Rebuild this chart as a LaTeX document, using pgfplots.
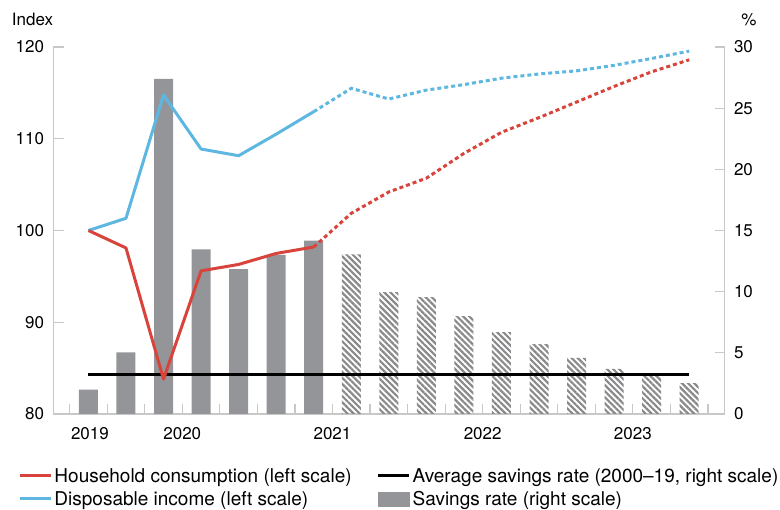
\documentclass[border=0pt]{standalone}
\usepackage{pgfplots}
\pgfplotsset{compat=1.18}
\usepackage{fontspec}
\setmainfont{TeX Gyre Heros}
\usetikzlibrary{patterns.meta}
\definecolor{hcred}{RGB}{216,68,60}
\definecolor{diblue}{RGB}{93,183,224}
\definecolor{bargray}{RGB}{147,149,152}
\definecolor{hatchgray}{RGB}{138,138,140}
\definecolor{axgray}{RGB}{200,200,200}
\begin{document}
\begin{tikzpicture}
% ---------- right scale: savings rate ----------
\begin{axis}[name=ax, scale only axis, width=671pt, height=367pt,
  xmin=-0.93, xmax=16.94, ymin=0, ymax=30,
  axis y line*=right, axis x line*=bottom,
  axis line style={axgray, line width=1.2pt},
  tick align=inside, major tick length=10pt,
  ytick={0,5,...,30},
  xtick={-0.5,0.5,...,16.5}, xticklabels={},
  tick style={axgray, line width=1.2pt},
  extra x ticks={0.04,2.5,6.5,10.5,14.5},
  extra x tick labels={2019,2020,2021,2022,2023},
  extra x tick style={major tick length=0pt},
  xticklabel style={yshift=-10pt},
  yticklabel style={xshift=6pt},
  tick label style={font=\fontsize{17}{20}\selectfont},
  /pgf/number format/assume math mode=true,
  clip=false]
\addplot[ybar, bar width=19pt, bar shift=0pt, fill=bargray, draw=none] coordinates {
(0,2.0) (1,5.04) (2,27.4) (3,13.46) (4,11.85) (5,13.0) (6,14.17)};
\addplot[ybar, bar width=19pt, bar shift=0pt, draw=none,
  pattern={Lines[angle=-45,distance=4.3pt,line width=2.2pt]}, pattern color=hatchgray] coordinates {
(7,13.05) (8,9.97) (9,9.56) (10,8.01) (11,6.7) (12,5.72) (13,4.58) (14,3.68) (15,3.1) (16,2.53)};
\addplot[black, line width=3pt] coordinates {(0,3.21) (16,3.21)};
\end{axis}
% ---------- left scale: index ----------
\begin{axis}[scale only axis, width=671pt, height=367pt,
  xmin=-0.93, xmax=16.94, ymin=80, ymax=120,
  axis y line*=left, axis x line=none,
  axis line style={axgray, line width=1.2pt},
  tick align=inside, major tick length=10pt,
  ytick={80,90,...,120},
  tick style={axgray, line width=1.2pt},
  yticklabel style={xshift=-6pt},
  tick label style={font=\fontsize{17}{20}\selectfont},
  /pgf/number format/assume math mode=true,
  legend columns=2,
  legend cell align=left,
  legend style={at={(axis description cs:-0.0525,-0.143)}, anchor=north west,
    draw=none, fill=none, inner sep=0pt,
    font=\fontsize{19}{22}\selectfont,
    nodes={inner sep=2pt, text depth=0.15em},
    row sep=3.5pt,
    /tikz/every even column/.append style={column sep=23pt}},
  legend image code/.code={\draw[#1] (0pt,1.2pt) -- (31pt,1.2pt);},
  clip=false]
\addlegendimage{hcred, line width=3pt}
\addlegendentry{Household consumption (left scale)}
\addlegendimage{black, line width=3pt}
\addlegendentry{Average savings rate (2000–19, right scale)}
\addlegendimage{diblue, line width=3pt}
\addlegendentry{Disposable income (left scale)}
\addlegendimage{legend image code/.code={\fill[bargray] (0pt,-6.5pt) rectangle (31pt,7pt);}}
\addlegendentry{Savings rate (right scale)}
\addplot[forget plot, diblue, line width=3pt, line join=round] coordinates {
(0,100) (1,101.33) (2,114.77) (3,108.88) (4,108.15) (5,110.5) (6,112.95)};
\addplot[forget plot, diblue, line width=3pt, dash pattern=on 4pt off 3pt] coordinates {
(6,112.95) (7,115.5) (8,114.33) (9,115.3) (10,115.9) (11,116.6) (12,117.06) (13,117.4) (14,118.0) (15,118.75) (16,119.55)};
\addplot[forget plot, hcred, line width=3pt, line join=round] coordinates {
(0,100) (1,98.1) (2,83.8) (3,95.6) (4,96.3) (5,97.5) (6,98.2)};
\addplot[forget plot, hcred, line width=3pt, dash pattern=on 4pt off 3pt] coordinates {
(6,98.2) (7,101.87) (8,104.2) (9,105.7) (10,108.4) (11,110.7) (12,112.3) (13,114.0) (14,115.7) (15,117.3) (16,118.6)};
\end{axis}
\node[anchor=base east, inner sep=0pt, font=\fontsize{17}{20}\selectfont] at (-0.2pt,388pt) {Index};
\node[anchor=base, inner sep=0pt, font=\fontsize{17}{20}\selectfont] at (695.5pt,388pt) {\%};
\pgfresetboundingbox
\path (-53.5pt,-96pt) rectangle (726.5pt,414pt);
\end{tikzpicture}
\end{document}
